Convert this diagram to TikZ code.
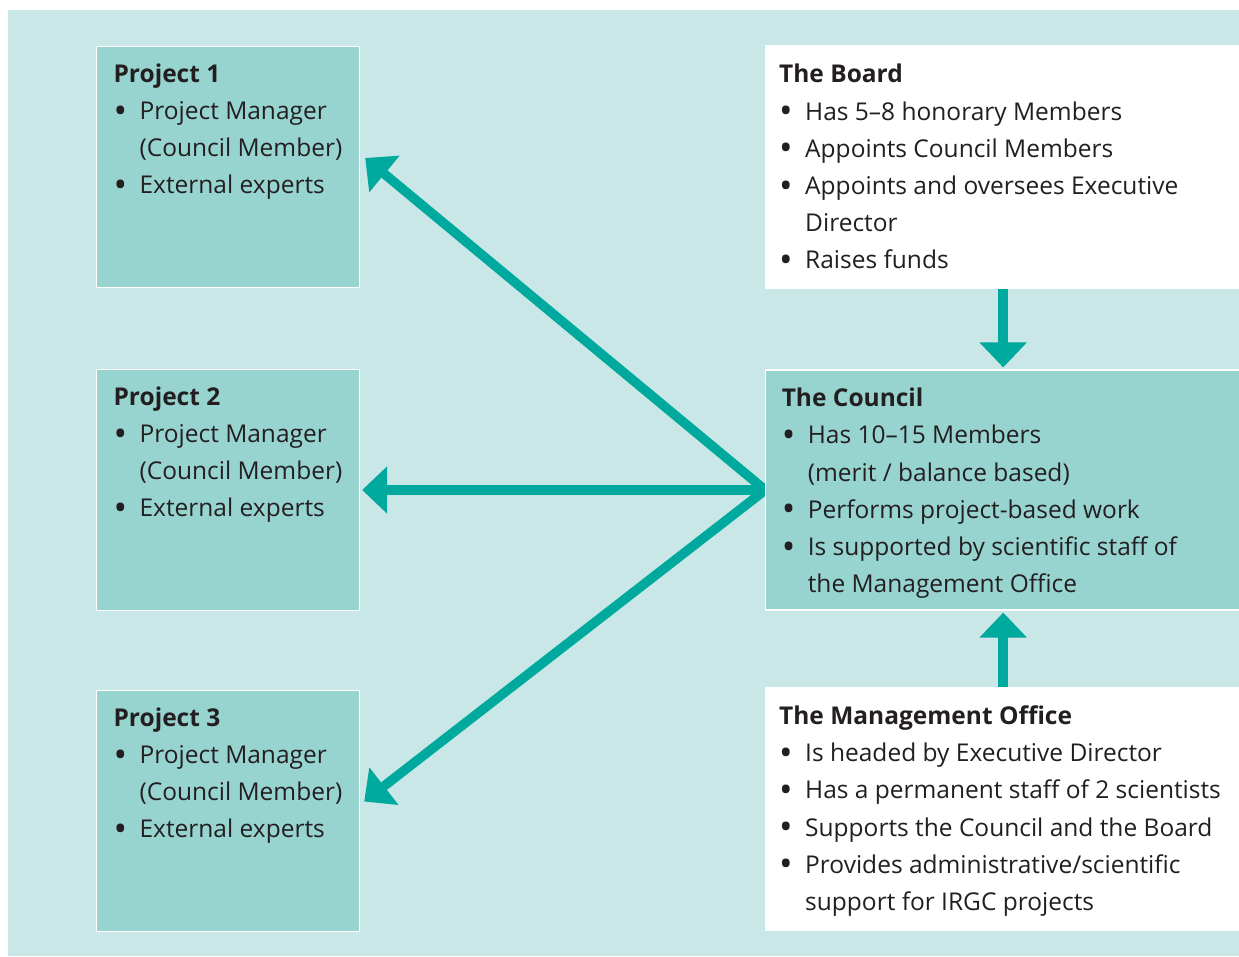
\documentclass[tikz,border=0pt]{standalone}
\usepackage{fontspec}
\setmainfont{Open Sans}
\usetikzlibrary{arrows.meta, positioning, backgrounds}

\definecolor{panelbg}{HTML}{C9E7E6}
\definecolor{boxteal}{HTML}{97D4D0}
\definecolor{linkteal}{HTML}{00A99D}
\definecolor{textdark}{HTML}{231F20}

% one bullet line with hanging indent (\newline keeps the indent)
\newcommand{\bitem}[1]{\par\hangindent=26pt\hangafter=1\noindent
  \makebox[26pt][l]{\raisebox{-3.6pt}{\fontsize{36}{36}\selectfont\textbullet}}#1}
% box contents: width, height, bold title, bullets
\newcommand{\boxbody}[4]{\parbox[c][#2][t]{#1}{\raggedright\textbf{#3}#4}}

\tikzset{
  panel/.style={anchor=north west, inner xsep=17pt, inner ysep=19pt,
    text=textdark, font=\fontsize{24.5}{37.2}\selectfont},
  project/.style={panel, inner ysep=17pt, fill=boxteal, draw=white, line width=1.2pt},
  whitebox/.style={panel, inner xsep=14pt, fill=white},
  tealbox/.style={panel, inner xsep=16pt, inner ysep=18pt, fill=boxteal, draw=white, line width=1.2pt},
  link/.style={draw=linkteal, line width=9.5pt, line join=miter},
  fathead/.tip={Triangle[width=46pt,length=25pt]}
}

\begin{document}
\begin{tikzpicture}[x=1pt, y=-1pt]
  \useasboundingbox (0,0) rectangle (1239,956);
  \begin{pgfonlayer}{background}
    \fill[panelbg] (8,10) rectangle (1239,956);
  \end{pgfonlayer}

  % projects
  \node[project] (p1) at (96,46) {\boxbody{229pt}{206.8pt}{Project 1}{%
    \bitem{Project Manager\newline(Council Member)}\bitem{External experts}}};
  \node[project, below=81pt of p1] (p2) {\boxbody{229pt}{206.8pt}{Project 2}{%
    \bitem{Project Manager\newline(Council Member)}\bitem{External experts}}};
  \node[project, below=79pt of p2] (p3) {\boxbody{229pt}{206.8pt}{Project 3}{%
    \bitem{Project Manager\newline(Council Member)}\bitem{External experts}}};

  % governing bodies
  \node[whitebox] (board) at (765,45) {\boxbody{448pt}{206pt}{The Board}{%
    \bitem{Has 5--8 honorary Members}
    \bitem{Appoints Council Members}
    \bitem{Appoints and oversees Executive\newline Director}
    \bitem{Raises funds}}};
  \node[tealbox, below=80pt of board] (council) {\boxbody{442.8pt}{204pt}{The Council}{%
    \bitem{Has 10--15 Members\newline(merit / balance based)}
    \bitem{Performs project-based work}
    \bitem{Is supported by scientific staff of\newline the Management Office}}};
  \node[whitebox, below=76pt of council] (office) {\boxbody{448pt}{206pt}{The Management Office}{%
    \bitem{Is headed by Executive Director}
    \bitem{Has a permanent staff of 2 scientists}
    \bitem{Supports the Council and the Board}
    \bitem{Provides administrative/scientific\newline support for IRGC projects}}};

  \coordinate (t1) at ([xshift=5pt,yshift=9pt]p1.east);
  \coordinate (t2) at ([xshift=2pt]council.west -| p2.east);
  \coordinate (t3) at ([xshift=4pt,yshift=9.5pt]p3.east);

  % arrows run under the boxes
  \begin{pgfonlayer}{background}
    \draw[link, {fathead}-{fathead}] (t1) -- (council.west) -- (t3);
    \draw[link, -{fathead}] (council.west) -- (t2);
    \draw[link, -{fathead}] (board.south) -- ([yshift=2pt]council.north);
    \draw[link, -{fathead}] (office.north) -- ([yshift=-2pt]council.south);
  \end{pgfonlayer}
\end{tikzpicture}
\end{document}
